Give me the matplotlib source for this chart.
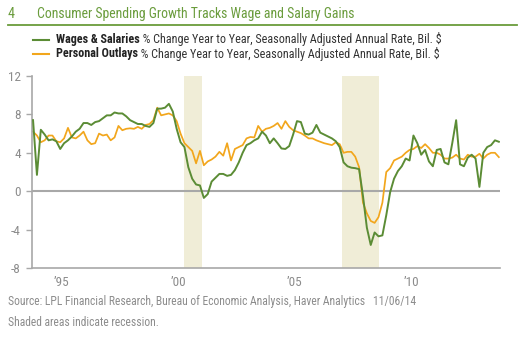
import matplotlib
matplotlib.use("Agg")
import matplotlib.pyplot as plt
from matplotlib import font_manager
from matplotlib.lines import Line2D
import numpy as np

# ---- data (2-month steps, Sep 1994 .. Sep 2014) ----
start_year = 1994 + 8 / 12
step_months = 2
wages = [7.4, 1.7, 6.4, 5.9, 5.3, 5.4, 5.2, 4.4, 5.0, 5.3,
         5.7, 6.2, 6.5, 7.1, 7.1, 6.9, 7.2, 7.3, 7.6, 7.9,
         7.9, 8.2, 8.1, 8.1, 7.8, 7.4, 7.2, 7.0, 7.0, 6.8,
         6.7, 7.1, 8.6, 8.6, 8.7, 9.1, 8.3, 6.5, 5.1, 4.6,
         2.5, 1.3, 0.7, 0.6, -0.7, -0.3, 1.0, 1.4, 1.8, 1.8,
         1.6, 1.7, 2.2, 3.0, 4.0, 4.8, 5.0, 5.3, 5.5, 6.2,
         5.8, 5.0, 5.5, 5.0, 4.45, 4.4, 4.7, 5.9, 7.3, 7.2,
         6.0, 5.9, 6.1, 6.9, 6.1, 5.9, 5.7, 5.5, 5.2, 4.6,
         3.0, 2.6, 2.45, 2.4, 2.3, -0.5, -3.8, -5.6, -4.3, -4.7,
         -4.6, -2.5, -0.1, 1.3, 2.1, 2.6, 3.4, 3.2, 5.8, 5.0,
         3.8, 4.3, 3.1, 2.6, 4.3, 4.4, 3.0, 2.8, 5.0, 7.4,
         2.8, 2.6, 3.5, 3.8, 3.4, 0.45, 4.0, 4.6, 4.8, 5.3,
         5.15]
outlays = [6.2, 5.8, 5.1, 5.3, 5.8, 5.8, 5.2, 5.1, 5.5, 6.6,
           5.6, 5.5, 5.8, 6.2, 5.3, 4.9, 5.0, 6.0, 5.8, 5.9,
           5.3, 5.6, 6.8, 6.35, 6.5, 6.55, 6.5, 6.7, 6.5, 6.9,
           7.0, 7.4, 8.7, 7.9, 8.0, 8.1, 7.9, 7.3, 6.0, 5.0,
           4.6, 4.2, 2.9, 4.2, 2.7, 3.1, 3.3, 3.6, 4.1, 3.7,
           5.0, 3.2, 4.4, 4.6, 4.8, 5.5, 5.65, 5.6, 6.8, 6.2,
           6.5, 6.6, 6.8, 7.1, 6.5, 7.3, 6.7, 6.35, 6.2, 6.05,
           5.8, 5.5, 5.5, 5.3, 5.15, 5.0, 4.9, 4.8, 5.1, 4.9,
           4.0, 4.1, 4.1, 3.6, 2.5, -1.2, -2.3, -3.1, -3.3, -2.7,
           -1.2, 2.0, 2.4, 3.2, 3.4, 3.6, 4.0, 4.3, 4.4, 4.7,
           4.5, 4.9, 4.5, 4.0, 4.0, 3.8, 3.4, 3.4, 3.5, 3.8,
           3.4, 3.3, 3.8, 3.6, 3.6, 3.9, 3.4, 3.8, 4.0, 4.0,
           3.55]
recessions = [(2001 + 2 / 12, 2001 + 11 / 12), (2007 + 11 / 12, 2009 + 6 / 12)]
tick_years = [1995, 2000, 2005, 2010]
tick_labels = ["\u201995", "\u201900", "\u201905", "\u201910"]
y_ticks = [-8, -4, 0, 4, 8, 12]

title_num = "4"
title = "Consumer Spending Growth Tracks Wage and Salary Gains"
leg_bold = ["Wages & Salaries", "Personal Outlays"]
leg_rest = " % Change Year to Year, Seasonally Adjusted Annual Rate, Bil. $"
source = "Source: LPL Financial Research, Bureau of Economic Analysis, Haver Analytics   11/06/14"
note = "Shaded areas indicate recession."

# ---- style ----
GREEN = "#5b8c35"
TITLE_GREEN = "#6a9c3c"
ORANGE = "#f2a61c"
GREY = "#a8a8a8"
TEXT_GREY = "#8c8c8c"
SHADE = "#f0edd7"

names = {f.name for f in font_manager.fontManager.ttflist}
FONT = "DejaVu Sans"
for cand in ["Liberation Sans Narrow", "Roboto Condensed", "DejaVu Sans Condensed"]:
    if cand in names:
        FONT = cand
        break
plt.rcParams["font.family"] = [FONT, "DejaVu Sans"]

W, H = 525, 338
fig = plt.figure(figsize=(W / 100, H / 100), dpi=100)
fig.patch.set_facecolor("white")


def fx(px):
    return px / W


def fy(py):
    return 1 - py / H


ax = fig.add_axes([fx(32), fy(268), fx(500) - fx(32), fy(76) - fy(268)])

t = start_year + np.arange(len(wages)) * step_months / 12
for a, b in recessions:
    ax.axvspan(a, b, color=SHADE, lw=0, zorder=0)
ax.axhline(0, color=GREY, lw=1.5, zorder=1)
ax.plot(t, outlays, color=ORANGE, lw=1.25, zorder=2)
ax.plot(t, wages, color=GREEN, lw=1.4, zorder=3)

ax.set_xlim(start_year - 0.045, start_year + 20.05)
ax.set_ylim(-8, 12)
ax.set_yticks(y_ticks)
ax.set_yticklabels([str(v) for v in y_ticks])
ax.set_xticks([y + 0.9 for y in tick_years])
ax.set_xticklabels(tick_labels)
ax.tick_params(axis="y", direction="out", length=4, width=1, color=GREY,
               labelcolor=TEXT_GREY, labelsize=9.5, pad=4)
ax.tick_params(axis="x", length=0, labelcolor=TEXT_GREY, labelsize=9.5, pad=6)
for s in ["top", "right"]:
    ax.spines[s].set_visible(False)
for s in ["left", "bottom"]:
    ax.spines[s].set_color(GREY)
    ax.spines[s].set_linewidth(1.2)

# title
fig.text(fx(8), fy(14), title_num, color=TITLE_GREEN, fontsize=10.2, va="center", ha="left")
fig.text(fx(37), fy(14), title, color=TITLE_GREEN, fontsize=9.9, va="center", ha="left")
fig.add_artist(Line2D([fx(8), fx(517)], [fy(25), fy(25)], color=TITLE_GREEN, lw=1.3))

# legend
fig.canvas.draw()
renderer = fig.canvas.get_renderer()
for i, (lab, col) in enumerate(zip(leg_bold, [GREEN, ORANGE])):
    yy = [39.5, 54][i]
    fig.add_artist(Line2D([fx(33), fx(49)], [fy(yy), fy(yy)], color=col, lw=1.5))
    tb = fig.text(fx(56), fy(yy), lab, fontsize=8.7, fontweight="bold", color="#222222",
                  va="center", ha="left")
    bb = tb.get_window_extent(renderer)
    fig.text(bb.x1 / W, fy(yy), leg_rest, fontsize=8.7, color="#333333",
             va="center", ha="left")

fig.text(fx(8), fy(302), source, fontsize=8.4, color=TEXT_GREY, va="center", ha="left")
fig.text(fx(8), fy(322), note, fontsize=8.4, color=TEXT_GREY, va="center", ha="left")

fig.savefig("out.png", dpi=100, facecolor="white")
